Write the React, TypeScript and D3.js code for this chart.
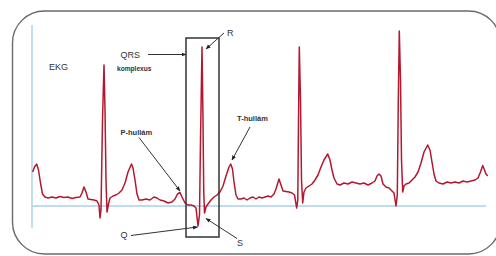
import * as d3 from "d3";

const W = 496;
const H = 256;

// time in seconds, amplitude in mV
const ekgTrace: [number, number][] = [
  [0.007, 0.34], [0.025, 0.39], [0.047, 0.42], [0.065, 0.36], [0.085, 0.23], [0.105, 0.12],
  [0.13, 0.09], [0.16, 0.08], [0.2, 0.09], [0.24, 0.08], [0.28, 0.095], [0.32, 0.085],
  [0.36, 0.09], [0.4, 0.075], [0.44, 0.085], [0.48, 0.09], [0.5, 0.13], [0.52, 0.19],
  [0.54, 0.14], [0.56, 0.07], [0.59, 0.065], [0.62, 0.06], [0.65, 0.05], [0.67, 0.01],
  [0.68, -0.12], [0.69, -0.04], [0.705, 0.86], [0.72, 1.41], [0.73, 0.96], [0.74, 0.26],
  [0.75, -0.06], [0.765, 0.02], [0.78, 0.08], [0.81, 0.1], [0.84, 0.11], [0.87, 0.13],
  [0.9, 0.16], [0.93, 0.23], [0.96, 0.34], [0.995, 0.42], [1.01, 0.38], [1.03, 0.26],
  [1.05, 0.12], [1.07, 0.06], [1.1, 0.06], [1.14, 0.07], [1.18, 0.06], [1.22, 0.09],
  [1.25, 0.08], [1.28, 0.06], [1.32, 0.05], [1.36, 0.03], [1.4, 0.04], [1.43, 0.07],
  [1.455, 0.12], [1.48, 0.135], [1.5, 0.09], [1.53, 0.03], [1.56, 0.01], [1.59, 0.01],
  [1.62, 0.0], [1.64, -0.02], [1.66, -0.2], [1.675, -0.09], [1.685, 0.66], [1.7, 1.59],
  [1.71, 0.86], [1.717, 0.16], [1.725, -0.07], [1.74, -0.01], [1.76, 0.02], [1.79, 0.06],
  [1.82, 0.09], [1.85, 0.11], [1.88, 0.14], [1.91, 0.2], [1.94, 0.3], [1.97, 0.39],
  [1.987, 0.42], [2.005, 0.37], [2.02, 0.24], [2.04, 0.11], [2.06, 0.07], [2.09, 0.07],
  [2.12, 0.08], [2.15, 0.06], [2.18, 0.08], [2.21, 0.09], [2.24, 0.07], [2.27, 0.09],
  [2.3, 0.08], [2.33, 0.09], [2.36, 0.1], [2.39, 0.09], [2.42, 0.12], [2.44, 0.17],
  [2.47, 0.27], [2.49, 0.21], [2.51, 0.15], [2.54, 0.145], [2.57, 0.14], [2.6, 0.13],
  [2.625, 0.11], [2.647, -0.02], [2.658, 0.06], [2.665, 0.86], [2.673, 1.59], [2.685, 1.06],
  [2.695, 0.26], [2.707, 0.03], [2.72, 0.14], [2.74, 0.18], [2.77, 0.2], [2.8, 0.22],
  [2.83, 0.26], [2.86, 0.31], [2.89, 0.39], [2.92, 0.46], [2.957, 0.52], [2.98, 0.46],
  [3.0, 0.36], [3.02, 0.28], [3.05, 0.22], [3.08, 0.21], [3.12, 0.23], [3.16, 0.22],
  [3.2, 0.24], [3.24, 0.23], [3.28, 0.22], [3.32, 0.23], [3.36, 0.21], [3.4, 0.23],
  [3.43, 0.25], [3.45, 0.3], [3.47, 0.32], [3.49, 0.3], [3.51, 0.22], [3.54, 0.19],
  [3.57, 0.18], [3.6, 0.15], [3.62, 0.13], [3.64, 0.0], [3.653, 0.11], [3.663, 1.06],
  [3.673, 1.75], [3.685, 1.26], [3.695, 0.46], [3.707, 0.14], [3.72, 0.2], [3.74, 0.22],
  [3.77, 0.23], [3.8, 0.26], [3.83, 0.29], [3.86, 0.34], [3.89, 0.43], [3.92, 0.54],
  [3.957, 0.61], [3.98, 0.56], [4.0, 0.44], [4.02, 0.32], [4.04, 0.25], [4.07, 0.23],
  [4.11, 0.22], [4.15, 0.24], [4.19, 0.23], [4.23, 0.24], [4.27, 0.23], [4.31, 0.25],
  [4.35, 0.24], [4.39, 0.25], [4.43, 0.26], [4.46, 0.28], [4.485, 0.34], [4.507, 0.405],
  [4.525, 0.36], [4.54, 0.32], [4.557, 0.3],
];

const X_DOMAIN: [number, number] = [0, 4.54];
const Y_DOMAIN: [number, number] = [-0.22, 1.81];

// annotation labels: text, x, y, size, weight
const labels: [string, number, number, number, string][] = [
  ["EKG", 49, 70, 9, "normal"],
  ["QRS", 120.5, 57.5, 9, "normal"],
  ["komplexus", 117, 70.5, 6.6, "bold"],
  ["R", 227, 36, 9, "normal"],
  ["P-hullám", 120.5, 134.5, 7.5, "bold"],
  ["T-hullám", 237, 121, 7.5, "bold"],
  ["Q", 120.5, 238, 9, "normal"],
  ["S", 237, 246, 9, "normal"],
];

// arrows: from (x1, y1) to the head at (x2, y2)
const arrows: [number, number, number, number][] = [
  [148, 54.5, 186, 54.5],
  [224, 33, 206, 49],
  [139, 137.5, 180, 191],
  [250, 127, 232, 160],
  [131, 235.5, 197.5, 227],
  [237, 238.5, 206, 218.5],
];

export default function App() {
  const x = d3.scaleLinear().domain(X_DOMAIN).range([32, 486]);
  const y = d3.scaleLinear().domain(Y_DOMAIN).range([228, 25]);

  const line = d3
    .line<[number, number]>()
    .x((d) => x(d[0]))
    .y((d) => y(d[1]));

  return (
    <svg
      width={W}
      height={H}
      style={{ position: "fixed", left: 0, top: 0, background: "#fff" }}
      fontFamily="'Liberation Sans', Arial, sans-serif"
    >
      <defs>
        <marker
          id="head"
          viewBox="0 0 10 10"
          refX="9"
          refY="5"
          markerWidth="5"
          markerHeight="5"
          orient="auto"
        >
          <path d="M0,1 L10,5 L0,9 z" fill="#222" />
        </marker>
      </defs>

      <rect x={12.5} y={11} width={488} height={243} rx={32} fill="none" stroke="#6a6a6a" strokeWidth={1.4} />

      {/* axes */}
      <line x1={x(0)} x2={x(0)} y1={y(Y_DOMAIN[0])} y2={y(Y_DOMAIN[1])} stroke="#a9d2e6" strokeWidth={1.4} />
      <line x1={x(0)} x2={x(X_DOMAIN[1])} y1={y(0)} y2={y(0)} stroke="#a9d2e6" strokeWidth={1.4} />

      <path d={line(ekgTrace) ?? ""} fill="none" stroke="#b3182f" strokeWidth={1.5} strokeLinejoin="round" />

      {/* QRS box */}
      <rect x={186} y={38} width={33} height={199} fill="none" stroke="#333" strokeWidth={1.5} />

      {arrows.map(([x1, y1, x2, y2], i) => (
        <line key={i} x1={x1} y1={y1} x2={x2} y2={y2} stroke="#333" strokeWidth={1} markerEnd="url(#head)" />
      ))}

      {labels.map(([t, lx, ly, size, weight]) => (
        <text key={t} x={lx} y={ly} fontSize={size} fontWeight={weight} fill="#333">
          {t}
        </text>
      ))}
    </svg>
  );
}
